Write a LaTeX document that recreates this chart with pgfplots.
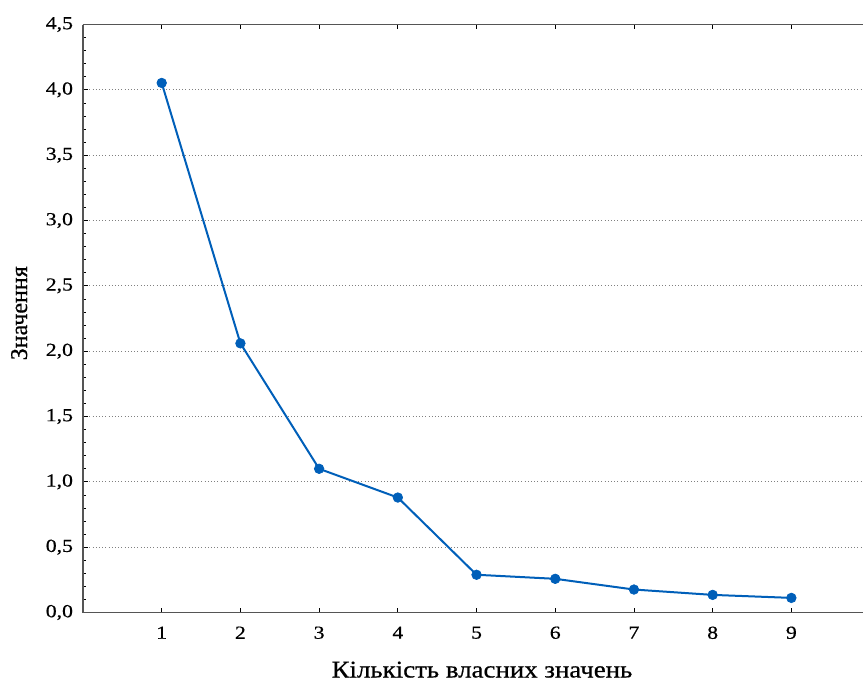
\documentclass[border=0pt]{standalone}
\usepackage{pgfplots}
\pgfplotsset{compat=1.18}
\usepackage{fontspec}
\setmainfont{Liberation Serif}[FakeBold=0.6]
\newfontfamily\widefont{Liberation Serif}[FakeStretch=1.12, FakeBold=0.6]
\newfontfamily\tickfont{Liberation Serif}[FakeStretch=1.18, FakeBold=0.6]
\usetikzlibrary{calc}
\definecolor{lineblue}{RGB}{0,95,185}
\definecolor{axgray}{RGB}{85,85,85}
\begin{document}
\begin{tikzpicture}
\begin{axis}[
  scale only axis,
  width=585pt, height=441pt,
  xmin=0, xmax=9.91, ymin=0, ymax=4.5,
  axis y line*=left,
  axis x line*=box,
  xtick={1,2,3,4,5,6,7,8,9},
  ytick={0,0.5,1,1.5,2,2.5,3,3.5,4,4.5},
  minor y tick num=4,
  tick align=inside,
  major tick length=3.5pt, minor tick length=2.5pt,
  tick style={black, line width=0.6pt},
  axis line style={axgray, line width=0.9pt},
  ymajorgrids,
  major grid style={gray, dotted, line width=0.6pt},
  /pgf/number format/assume math mode=true,
  /pgf/number format/.cd, use comma, fixed, fixed zerofill, precision=1, /pgfplots/.cd,
  xticklabel={\pgfmathprintnumber[precision=0,fixed zerofill=false]{\tick}},
  tick label style={font=\tickfont\fontsize{13.8}{16}\selectfont},
  yticklabel style={xshift=-4pt},
  xticklabel style={yshift=-7pt},
  xlabel={Кількість власних значень},
  ylabel={Значення},
  xlabel style={font=\widefont\fontsize{18}{21}\selectfont, at={(axis description cs:0.5115,-0.1105)}, anchor=base},
  ylabel style={font=\fontsize{18}{21}\selectfont, at={(axis description cs:-0.0718,0.509)}, anchor=base, rotate=0},
]
\addplot[color=lineblue, line width=1.5pt, mark=*, mark size=3.6pt, mark options={fill=lineblue, draw=lineblue, line width=0.5pt}]
coordinates {(1,4.053) (2,2.06) (3,1.10) (4,0.88) (5,0.289) (6,0.258) (7,0.176) (8,0.135) (9,0.112)};
\end{axis}
\pgfresetboundingbox
\path[use as bounding box] ($(current axis.south west)+(-62.25pt,-52.5pt)$) rectangle ($(current axis.north east)+(0,18.4pt)$);
\end{tikzpicture}
\end{document}
